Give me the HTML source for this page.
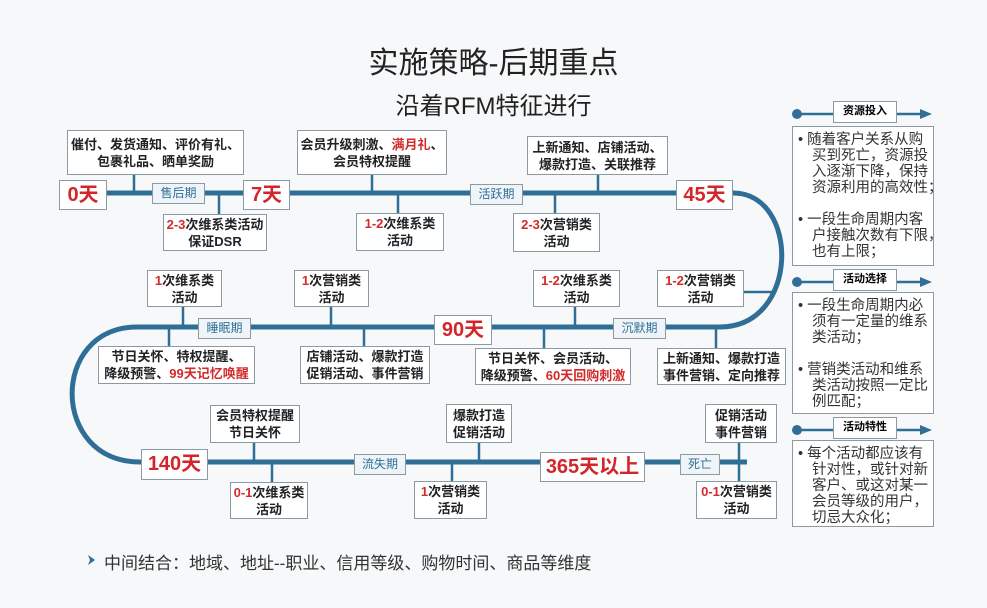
<!DOCTYPE html>
<html><head><meta charset="utf-8"><style>
body{margin:0;width:987px;height:608px;background:#f7f8f9;font-family:"Liberation Sans","Noto Sans CJK SC",sans-serif;position:relative;overflow:hidden}
.b{position:absolute;background:#fff;border:1.5px solid #8c9aa4;box-sizing:border-box;display:flex;align-items:center;justify-content:center;text-align:center;font-size:13px;line-height:17px;color:#222;font-weight:bold}
.r{color:#d22b2b}
.d{font-size:20px;color:#d3262b;font-weight:bold}
.p{background:#eef4f7;color:#2f6f97;font-weight:normal;font-size:12px}
.t{position:absolute;width:100%;text-align:center;color:#222}
.pn{position:absolute;left:792px;width:142px;background:#fff;border:1.5px solid #8c9aa4;box-sizing:border-box;padding:5px 0 0 5px;font-size:14.5px;line-height:16px;color:#333;white-space:nowrap}
.pn div{padding-left:14px;text-indent:-14px;margin-bottom:16px}
.h{position:absolute;left:833px;width:64px;height:22px;background:#fff;border:1.5px solid #8c9aa4;box-sizing:border-box;font-size:11px;font-weight:bold;text-align:center;line-height:19px}
</style></head><body>
<div class="t" style="top:38px;font-size:30px;left:0">实施策略-后期重点</div>
<div class="t" style="top:86px;font-size:24px;left:0">沿着RFM特征进行</div>
<svg width="987" height="608" style="position:absolute;left:0;top:0" stroke="#2f6f97" fill="#2f6f97">
<g stroke-width="5" fill="none">
<line x1="100" y1="193" x2="735" y2="193"/>
<path d="M733,193 C800,193 800,327 720,327"/>
<line x1="135" y1="327" x2="722" y2="327"/>
<path d="M137,327 C50,327 50,462 140,462"/>
<line x1="140" y1="462" x2="747" y2="462"/>
</g>
<g stroke-width="2.5">
<line x1="134" y1="175" x2="134" y2="193"/><line x1="219" y1="193" x2="219" y2="214"/>
<line x1="372" y1="175" x2="372" y2="193"/><line x1="398" y1="193" x2="398" y2="213"/>
<line x1="598" y1="175" x2="598" y2="193"/><line x1="555" y1="193" x2="555" y2="213"/>
<line x1="744" y1="292" x2="774" y2="292"/>
<line x1="183" y1="307" x2="183" y2="327"/><line x1="169" y1="327" x2="169" y2="346"/>
<line x1="331" y1="307" x2="331" y2="327"/><line x1="364" y1="327" x2="364" y2="346"/>
<line x1="575" y1="307" x2="575" y2="327"/><line x1="544" y1="327" x2="544" y2="348"/>
<line x1="716" y1="327" x2="716" y2="348"/>
<line x1="254" y1="443" x2="254" y2="462"/><line x1="272" y1="462" x2="272" y2="482"/>
<line x1="479" y1="443" x2="479" y2="462"/><line x1="452" y1="462" x2="452" y2="481"/>
<line x1="739" y1="443" x2="739" y2="481"/>
<line x1="797" y1="114" x2="833" y2="114"/><line x1="897" y1="114" x2="922" y2="114"/>
<line x1="797" y1="282" x2="833" y2="282"/><line x1="897" y1="282" x2="922" y2="282"/>
<line x1="797" y1="430" x2="833" y2="430"/><line x1="897" y1="430" x2="922" y2="430"/>
</g>
<g stroke="none">
<circle cx="797" cy="114" r="5"/><circle cx="797" cy="282" r="5"/><circle cx="797" cy="430" r="5"/>
<polygon points="920,109 932,114 920,119"/><polygon points="920,277 932,282 920,287"/><polygon points="920,425 932,430 920,435"/>
<polygon points="88,555 95,560 88,565 90,560" fill="#2f6f97"/>
</g>
</svg>
<div class="b d" style="left:59px;top:180px;width:48px;height:30px">0天</div>
<div class="b d" style="left:243px;top:180px;width:47px;height:30px">7天</div>
<div class="b d" style="left:676px;top:180px;width:57px;height:30px">45天</div>
<div class="b d" style="left:434px;top:315px;width:58px;height:30px">90天</div>
<div class="b d" style="left:141px;top:449px;width:67px;height:31px">140天</div>
<div class="b d" style="left:540px;top:452px;width:105px;height:30px">365天以上</div>
<div class="b p" style="left:152px;top:183px;width:53px;height:21px">售后期</div>
<div class="b p" style="left:470px;top:184px;width:53px;height:21px">活跃期</div>
<div class="b p" style="left:613px;top:318px;width:53px;height:21px">沉默期</div>
<div class="b p" style="left:198px;top:318px;width:53px;height:21px">睡眠期</div>
<div class="b p" style="left:354px;top:454px;width:52px;height:21px">流失期</div>
<div class="b p" style="left:680px;top:454px;width:40px;height:21px">死亡</div>
<div class="b" style="left:67px;top:130px;width:177px;height:45px">催付、发货通知、评价有礼、<br>包裹礼品、晒单奖励</div>
<div class="b" style="left:163px;top:214px;width:104px;height:37px"><span><span class="r">2-3</span>次维系类活动<br>保证DSR</span></div>
<div class="b" style="left:297px;top:130px;width:150px;height:45px"><span>会员升级刺激、<span class="r">满月礼</span>、<br>会员特权提醒</span></div>
<div class="b" style="left:356px;top:213px;width:88px;height:38px"><span><span class="r">1-2</span>次维系类<br>活动</span></div>
<div class="b" style="left:527px;top:136px;width:141px;height:39px">上新通知、店铺活动、<br>爆款打造、关联推荐</div>
<div class="b" style="left:513px;top:213px;width:87px;height:39px"><span><span class="r">2-3</span>次营销类<br>活动</span></div>
<div class="b" style="left:657px;top:270px;width:87px;height:37px"><span><span class="r">1-2</span>次营销类<br>活动</span></div>
<div class="b" style="left:533px;top:270px;width:87px;height:37px"><span><span class="r">1-2</span>次维系类<br>活动</span></div>
<div class="b" style="left:475px;top:348px;width:156px;height:37px"><span>节日关怀、会员活动、<br>降级预警、<span class="r">60天回购刺激</span></span></div>
<div class="b" style="left:657px;top:348px;width:129px;height:37px">上新通知、爆款打造<br>事件营销、定向推荐</div>
<div class="b" style="left:147px;top:270px;width:75px;height:37px"><span><span class="r">1</span>次维系类<br>活动</span></div>
<div class="b" style="left:98px;top:346px;width:157px;height:38px"><span>节日关怀、特权提醒、<br>降级预警、<span class="r">99天记忆唤醒</span></span></div>
<div class="b" style="left:294px;top:270px;width:75px;height:37px"><span><span class="r">1</span>次营销类<br>活动</span></div>
<div class="b" style="left:300px;top:346px;width:130px;height:38px">店铺活动、爆款打造<br>促销活动、事件营销</div>
<div class="b" style="left:210px;top:405px;width:90px;height:38px">会员特权提醒<br>节日关怀</div>
<div class="b" style="left:230px;top:482px;width:78px;height:37px"><span><span class="r">0-1</span>次维系类<br>活动</span></div>
<div class="b" style="left:414px;top:481px;width:73px;height:38px"><span><span class="r">1</span>次营销类<br>活动</span></div>
<div class="b" style="left:446px;top:404px;width:66px;height:39px">爆款打造<br>促销活动</div>
<div class="b" style="left:705px;top:404px;width:72px;height:39px">促销活动<br>事件营销</div>
<div class="b" style="left:696px;top:481px;width:81px;height:38px"><span><span class="r">0-1</span>次营销类<br>活动</span></div>
<div class="h" style="top:101px">资源投入</div>
<div class="pn" style="top:126px;height:140px"><div>• 随着客户关系从购<br>买到死亡，资源投<br>入逐渐下降，保持<br>资源利用的高效性；</div><div>• 一段生命周期内客<br>户接触次数有下限，<br>也有上限；</div></div>
<div class="h" style="top:269px">活动选择</div>
<div class="pn" style="top:292px;height:122px"><div>• 一段生命周期内必<br>须有一定量的维系<br>类活动；</div><div>• 营销类活动和维系<br>类活动按照一定比<br>例匹配；</div></div>
<div class="h" style="top:417px">活动特性</div>
<div class="pn" style="top:440px;height:87px"><div>• 每个活动都应该有<br>针对性，或针对新<br>客户、或这对某一<br>会员等级的用户，<br>切忌大众化；</div></div>
<div style="position:absolute;left:104px;top:549px;font-size:17px;color:#333">中间结合：地域、地址--职业、信用等级、购物时间、商品等维度</div>
</body></html>
